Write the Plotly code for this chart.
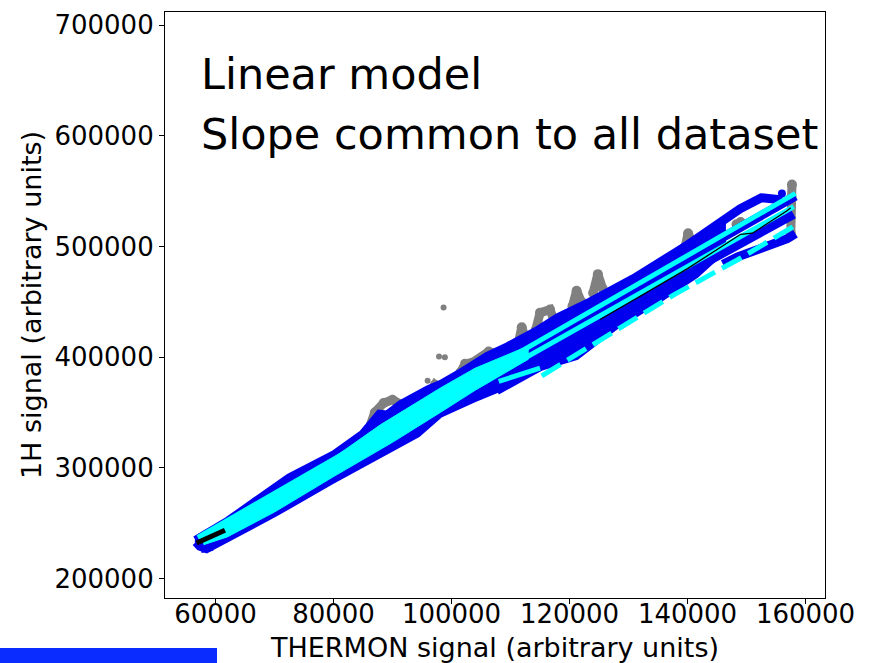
import plotly.graph_objects as go

# ---------------- data ----------------
x_ticks = [60000, 80000, 100000, 120000, 140000, 160000]
y_ticks = [200000, 300000, 400000, 500000, 600000, 700000]

# gray raw signal: spikes standing above the main cloud
gray_spike_x = [86000, 87000, 88500, 90000, 91500, 92500, None,
                96500, 97200, 98300, None,
                101500, 102300, 103500, 105000, 106300, 107500, None,
                111300, 111900, 112600, None,
                114300, 115000, 116700, 117500, None,
                120500, 121200, 122000, None,
                124000, 124800, 125600, None,
                139500, 140100, 140800, None,
                148300, 149000, None,
                157500, 157600, 157700]
gray_spike_y = [335000, 350000, 358500, 361500, 357000, 350000, None,
                368000, 375000, 370000, None,
                386000, 394000, 395000, 399500, 405000, 403000, None,
                412000, 427000, 416000, None,
                425000, 440000, 443000, 431000, None,
                446000, 460000, 450000, None,
                458000, 475000, 462000, None,
                497000, 512000, 503000, None,
                520000, 522000, None,
                512000, 545000, 556000]
gray_dot_x = [98650, 97880, 98870, 95950, 98800]
gray_dot_y = [444800, 400500, 399900, 378600, 376000]

# blue data cloud (outline of the dense band)
blue_band_x = [56500, 62000, 72400, 80000, 84800, 86500, 87700, 89000, 91300, 96000,
               98100, 101500, 106000, 109400, 114600, 118000, 123400, 130700, 138000,
               143100, 146000,
               146000, 141500, 135000, 128000, 121200, 115000, 108000, 103700, 98100,
               94270, 88000, 79700, 70000, 62000, 58500, 57200, 56500]
blue_band_y = [235500, 253000, 292100, 313000, 331300, 343000, 349700, 349000, 358400, 372000,
               376500, 387000, 402000, 410600, 425500, 437000, 451000, 472000, 497000,
               513000, 519000,
               496000, 474000, 451000, 428000, 400000, 390000, 371000, 361400, 347900,
               330000, 312000, 287600, 258000, 236000, 225500, 228000, 232000]

blue_line_x = [138000, 143100, 148900, 152500, 155400, 156300, None,
               135000, 158300, None,
               135000, 158000, None,
               146000, 148500, 156900, 158300, None,
               107660, 115000, None,
               57500, 59500]
blue_line_y = [494000, 512000, 534000, 544000, 542500, 536000, None,
               475000, 545500, None,
               462000, 529000, None,
               484000, 490600, 507000, 511500, None,
               369800, 391500, None,
               227000, 229000]
blue_dot_x = [156000]
blue_dot_y = [547800]

# cyan model lines
cyan_band_x = [57500, 64000, 72000, 80000, 88000, 98100, 104000, 109400, 113000,
               113000, 109400, 104000, 98100, 90000, 80000, 70000, 62000, 58000]
cyan_band_y = [237500, 258000, 284000, 309000, 339000, 372000, 390000, 402000, 410000,
               398000, 387000, 370000, 350000, 323000, 292000, 260000, 237500, 230500]
cyan_line_x = [57000, 158300, None, 57500, 158000, None, 108000, 115000]
cyan_line_y = [237000, 548000, None, 234000, 536000, None, 378000, 390000]
cyan_dash_x = [115300, 137900, 148500, 158100]
cyan_dash_y = [383000, 457000, 488000, 518500]

# black series
black_thick_x = [56800, 61600]
black_thick_y = [232000, 243600]
black_thin_x = [125200, 140000, 149000, 151000, 156800, 157500]
black_thin_y = [434000, 480000, 511000, 512000, 532000, 535000]

# ---------------- figure ----------------
GRAY = "#808080"
BLUE = "#0000ee"
CYAN = "#00ffff"

fig = go.Figure()
fig.add_trace(go.Scatter(x=gray_spike_x, y=gray_spike_y, mode="lines+markers",
                         line=dict(color=GRAY, width=9), marker=dict(color=GRAY, size=10),
                         connectgaps=False, hoverinfo="skip"))
fig.add_trace(go.Scatter(x=gray_dot_x, y=gray_dot_y, mode="markers",
                         marker=dict(color=GRAY, size=6), hoverinfo="skip"))
fig.add_trace(go.Scatter(x=blue_band_x, y=blue_band_y, mode="lines", fill="toself",
                         fillcolor=BLUE, line=dict(color=BLUE, width=6),
                         hoverinfo="skip"))
fig.add_trace(go.Scatter(x=blue_line_x, y=blue_line_y, mode="lines",
                         line=dict(color=BLUE, width=9), hoverinfo="skip"))
fig.add_trace(go.Scatter(x=blue_dot_x, y=blue_dot_y, mode="markers",
                         marker=dict(color=BLUE, size=8), hoverinfo="skip"))
fig.add_trace(go.Scatter(x=cyan_band_x, y=cyan_band_y, mode="lines", fill="toself",
                         fillcolor=CYAN, line=dict(color=CYAN, width=1),
                         hoverinfo="skip"))
fig.add_trace(go.Scatter(x=cyan_line_x, y=cyan_line_y, mode="lines",
                         line=dict(color=CYAN, width=5), hoverinfo="skip"))
fig.add_trace(go.Scatter(x=cyan_dash_x, y=cyan_dash_y, mode="lines",
                         line=dict(color=CYAN, width=5, dash="22px,8px"),
                         hoverinfo="skip"))
fig.add_trace(go.Scatter(x=black_thick_x, y=black_thick_y, mode="lines",
                         line=dict(color="black", width=5), hoverinfo="skip"))
fig.add_trace(go.Scatter(x=black_thin_x, y=black_thin_y, mode="lines",
                         line=dict(color="black", width=1.3), hoverinfo="skip"))

FONT = "DejaVu Sans"
axis_common = dict(showgrid=False, zeroline=False, showline=True, linecolor="black",
                   linewidth=1.2, mirror=True, ticks="outside", ticklen=5,
                   tickcolor="black", tickwidth=1, automargin=False,
                   tickfont=dict(family=FONT, size=26, color="black"))

fig.update_layout(
    width=872, height=663,
    margin=dict(l=165, r=47, t=12, b=65),
    paper_bgcolor="white", plot_bgcolor="white",
    showlegend=False,
    xaxis=dict(range=[51440, 163300], tickvals=x_ticks,
               ticktext=[str(v) for v in x_ticks],
               ticklabelstandoff=-12,
               title=dict(text="THERMON signal (arbitrary units)",
                          font=dict(family=FONT, size=27, color="black"),
                          standoff=12),
               **axis_common),
    yaxis=dict(range=[182300, 711900], tickvals=y_ticks,
               ticktext=[str(v) for v in y_ticks],
               title=dict(text="1H signal (arbitrary units)",
                          font=dict(family=FONT, size=27, color="black"),
                          standoff=4),
               **axis_common),
    annotations=[
        dict(text="Linear model", xref="paper", yref="paper", x=0.052, y=0.895,
             xanchor="left", yanchor="middle", showarrow=False,
             font=dict(family=FONT, size=43, color="black")),
        dict(text="Slope common to all dataset", xref="paper", yref="paper",
             x=0.052, y=0.792, xanchor="left", yanchor="middle", showarrow=False,
             font=dict(family=FONT, size=43, color="black")),
    ],
    shapes=[dict(type="rect", xref="paper", yref="paper", x0=-0.25, x1=0.0788,
                 y0=-0.111, y1=-0.0853, fillcolor="#0a2cff", line=dict(width=0),
                 layer="above")],
)

fig.write_html("out.html")
